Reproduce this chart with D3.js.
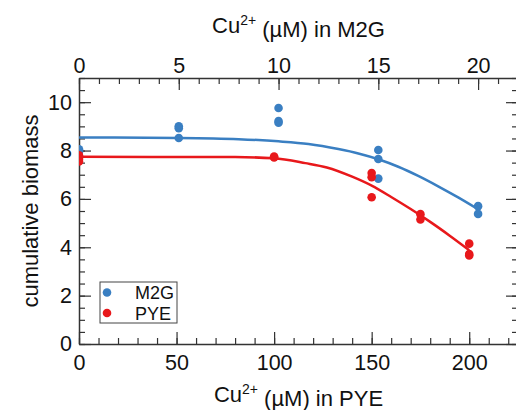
<!DOCTYPE html>
<html>
<head>
<meta charset="utf-8">
<script src="https://cdn.jsdelivr.net/npm/d3@7"></script>
<style>
  html, body { margin: 0; padding: 0; background: #fff; }
  svg { display: block; font-family: "Liberation Sans", Arial, Helvetica, sans-serif; }
</style>
</head>
<body>
<svg id="chart" width="516" height="410"></svg>
<script>
// Tick labels
const pyeTicks = [0, 50, 100, 150, 200];
const m2gTicks = [0, 5, 10, 15, 20];
const yTicks = [0, 2, 4, 6, 8, 10];

// Measured biomass, M2G medium (Cu2+ in µM, top axis)
const m2gConc  = [0, 0, 5, 5, 5, 10, 10, 10, 15, 15, 15, 20, 20];
const m2gValue = [8.05, 7.95, 9.0, 8.92, 8.52, 9.76, 9.22, 9.15, 8.02, 7.65, 6.84, 5.7, 5.38];

// Measured biomass, PYE medium (Cu2+ in µM, bottom axis)
const pyeConc  = [0, 0, 0, 100, 100, 150, 150, 150, 175, 175, 200, 200, 200];
const pyeValue = [7.8, 7.65, 7.55, 7.75, 7.71, 7.07, 6.9, 6.07, 5.37, 5.15, 4.15, 3.72, 3.66];

// Fitted dose-response curves
const m2gFitConc  = [0, 5, 8, 10, 11.5, 13, 14, 15, 16, 17, 18, 19, 20];
const m2gFitValue = [8.54, 8.52, 8.47, 8.38, 8.27, 8.06, 7.88, 7.64, 7.33, 6.95, 6.52, 6.06, 5.57];
const pyeFitConc  = [0, 80, 100, 116, 127, 140, 150, 160, 170, 180, 190, 200];
const pyeFitValue = [7.74, 7.73, 7.68, 7.48, 7.3, 6.92, 6.55, 6.08, 5.58, 5.05, 4.48, 3.88];

const colors = { m2g: "#3a7fc2", pye: "#e8181b" };

const svg = d3.select("#chart");
const plotLeft = 79, plotRight = 518, plotTop = 78, plotBottom = 344;

const xPye = d3.scaleLinear().domain([0, 225]).range([plotLeft, plotRight]);
const xM2g = d3.scaleLinear().domain([0, 22]).range([plotLeft, plotRight]);
const y = d3.scaleLinear().domain([0, 11]).range([plotBottom, plotTop]);

svg.append("defs").append("clipPath").attr("id", "plotClip")
  .append("rect").attr("x", plotLeft).attr("y", plotTop)
  .attr("width", plotRight - plotLeft).attr("height", plotBottom - plotTop);

const axisColor = "#333";
const tickFont = 21.5;

function styleAxis(g) {
  g.selectAll(".domain").attr("stroke", axisColor).attr("stroke-width", 1.5);
  g.selectAll(".tick line").attr("stroke", axisColor).attr("stroke-width", 1.2);
  g.selectAll(".tick text").attr("fill", "#111").style("font-size", tickFont + "px");
}

// Bottom axis (PYE)
const gB = svg.append("g").attr("transform", `translate(0,${plotBottom})`);
gB.call(d3.axisBottom(xPye).tickValues(d3.range(0, 226, 10)).tickSize(-6).tickFormat(""))
  .call(g => g.select(".domain").remove());
gB.append("g").call(d3.axisBottom(xPye).tickValues(pyeTicks).tickSize(-12).tickSizeOuter(0).tickPadding(11).tickFormat(d3.format("d")));
styleAxis(gB);

// Top axis (M2G)
const gT = svg.append("g").attr("transform", `translate(0,${plotTop})`);
gT.call(d3.axisTop(xM2g).tickValues(d3.range(0, 23, 1)).tickSize(-6).tickFormat(""))
  .call(g => g.select(".domain").remove());
gT.append("g").call(d3.axisTop(xM2g).tickValues(m2gTicks).tickSize(-12).tickSizeOuter(0).tickPadding(5).tickFormat(d3.format("d")));
styleAxis(gT);

// Left axis
const gL = svg.append("g").attr("transform", `translate(${plotLeft},0)`);
gL.call(d3.axisLeft(y).tickValues(d3.range(0, 11.01, 0.5)).tickSize(-6).tickFormat(""))
  .call(g => g.select(".domain").remove());
gL.append("g").call(d3.axisLeft(y).tickValues(yTicks).tickSize(-12).tickSizeOuter(0).tickPadding(7).tickFormat(d3.format("d")));
styleAxis(gL);

// Right axis (ticks only)
const gR = svg.append("g").attr("transform", `translate(${plotRight},0)`);
gR.call(d3.axisRight(y).tickValues(d3.range(0, 11.01, 0.5)).tickSize(-6).tickFormat(""))
  .call(g => g.select(".domain").remove());
gR.append("g").call(d3.axisRight(y).tickValues(yTicks).tickSize(-12).tickSizeOuter(0).tickFormat(""));
styleAxis(gR);

// Axis titles
function cuTitle(sel, suffix) {
  sel.append("tspan").text("Cu");
  sel.append("tspan").attr("dy", "-0.55em").style("font-size", "14px").text("2+");
  sel.append("tspan").attr("dy", "0.55em").text(" (µM) in " + suffix);
}
svg.append("text").attr("x", (plotLeft + plotRight) / 2).attr("y", 402)
  .attr("text-anchor", "middle").attr("fill", "#111").style("font-size", "22px")
  .call(cuTitle, "PYE");
svg.append("text").attr("x", (plotLeft + plotRight) / 2).attr("y", 33)
  .attr("text-anchor", "middle").attr("fill", "#111").style("font-size", "22px")
  .call(cuTitle, "M2G");
svg.append("text")
  .attr("transform", `translate(38,${(plotTop + plotBottom) / 2}) rotate(-90)`)
  .attr("text-anchor", "middle").attr("fill", "#111").style("font-size", "22px")
  .text("cumulative biomass");

// Fitted curves and points
const plot = svg.append("g").attr("clip-path", "url(#plotClip)");

const m2gLine = d3.line().x(i => xM2g(m2gFitConc[i])).y(i => y(m2gFitValue[i])).curve(d3.curveMonotoneX);
const pyeLine = d3.line().x(i => xPye(pyeFitConc[i])).y(i => y(pyeFitValue[i])).curve(d3.curveMonotoneX);

plot.append("path").attr("d", m2gLine(d3.range(m2gFitConc.length)))
  .attr("fill", "none").attr("stroke", colors.m2g).attr("stroke-width", 2.5);
plot.append("path").attr("d", pyeLine(d3.range(pyeFitConc.length)))
  .attr("fill", "none").attr("stroke", colors.pye).attr("stroke-width", 2.5);

plot.append("g").selectAll("circle").data(d3.range(m2gConc.length)).join("circle")
  .attr("cx", i => xM2g(m2gConc[i])).attr("cy", i => y(m2gValue[i]))
  .attr("r", 4.3).attr("fill", colors.m2g);
plot.append("g").selectAll("circle").data(d3.range(pyeConc.length)).join("circle")
  .attr("cx", i => xPye(pyeConc[i])).attr("cy", i => y(pyeValue[i]))
  .attr("r", 4.3).attr("fill", colors.pye);

// Legend
const legendItems = [
  { label: "M2G", color: colors.m2g },
  { label: "PYE", color: colors.pye }
];
const lg = svg.append("g");
lg.append("rect").attr("x", 100).attr("y", 282).attr("width", 77).attr("height", 41)
  .attr("fill", "#fff").attr("stroke", "#444").attr("stroke-width", 1);
legendItems.forEach((d, i) => {
  const cy = 292.5 + i * 20.5;
  lg.append("circle").attr("cx", 107).attr("cy", cy).attr("r", 4.3).attr("fill", d.color);
  lg.append("text").attr("x", 135).attr("y", cy + 6.5).attr("fill", "#111")
    .style("font-size", "18px").text(d.label);
});
</script>
</body>
</html>
